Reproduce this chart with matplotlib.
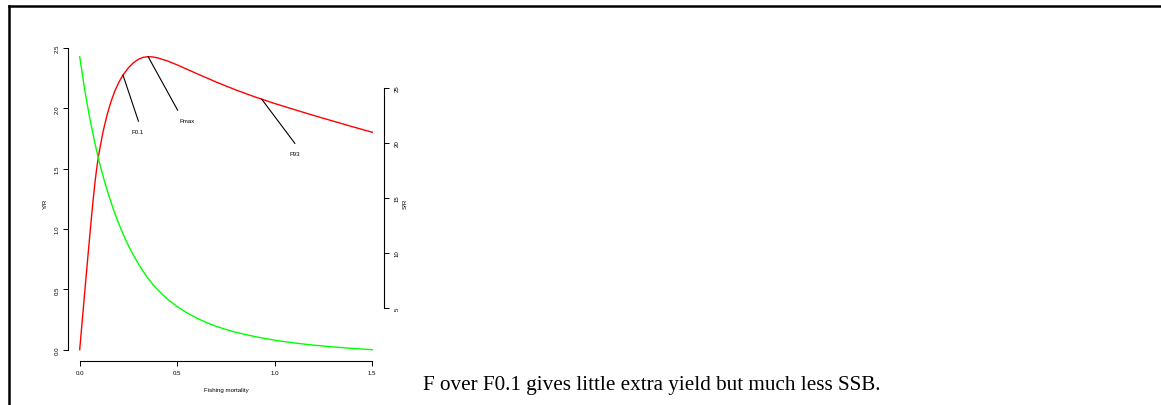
import numpy as np
import matplotlib
matplotlib.use("Agg")
import matplotlib.pyplot as plt
from matplotlib.lines import Line2D

# fishing mortality grid for the yield-per-recruit curve
f_yield = [0.0, 0.02, 0.04, 0.06, 0.07, 0.08, 0.09, 0.10, 0.12, 0.14, 0.16, 0.18,
           0.20, 0.22, 0.25, 0.275, 0.30, 0.325, 0.35, 0.375, 0.40, 0.45, 0.50,
           0.55, 0.60, 0.70, 0.80, 0.90, 1.00, 1.10, 1.20, 1.30, 1.40, 1.50]
yield_per_recruit = [0.0, 0.371, 0.738, 1.093, 1.26, 1.41, 1.536, 1.639, 1.808, 1.944, 2.054, 2.143,
                     2.214, 2.271, 2.337, 2.377, 2.406, 2.423, 2.428, 2.426, 2.418, 2.393, 2.36,
                     2.324, 2.288, 2.218, 2.153, 2.094, 2.04, 1.99, 1.941, 1.894, 1.847, 1.802]

# spawning stock per recruit
f_ssb = [0.0, 0.025, 0.05, 0.075, 0.10, 0.125, 0.15, 0.175, 0.20, 0.225, 0.25, 0.275,
         0.30, 0.325, 0.35, 0.375, 0.40, 0.45, 0.50, 0.55, 0.60, 0.65, 0.70, 0.75,
         0.80, 0.90, 1.00, 1.10, 1.20, 1.30, 1.40, 1.50]
ssb_per_recruit = [27.8, 24.87, 22.37, 20.19, 18.26, 16.61, 15.14, 13.83, 12.65, 11.59, 10.64, 9.79,
                   9.02, 8.32, 7.68, 7.12, 6.63, 5.79, 5.11, 4.54, 4.07, 3.66, 3.32, 3.03,
                   2.78, 2.38, 2.06, 1.81, 1.61, 1.45, 1.31, 1.20]

# reference points
ref_names = ["F0.1", "Fmax", "F93"]
ref_f = [0.222, 0.351, 0.933]
ref_line_end = [(0.301, 1.894), (0.502, 1.985), (1.103, 1.71)]
ref_text_pos = [(0.299, 1.805), (0.551, 1.896), (1.103, 1.626)]

x_ticks = [0.0, 0.5, 1.0, 1.5]
yr_ticks = [0.0, 0.5, 1.0, 1.5, 2.0, 2.5]
sr_ticks = [5, 10, 15, 20, 25]

caption = "F over F0.1 gives little extra yield but much less SSB."

SANS = "Liberation Sans"
SERIF = "Liberation Serif"
SMALL = 4.4


def padded(lo, hi):
    # R-style 4% padding of the axis range
    d = (hi - lo) * 0.04
    return lo - d, hi + d


def style_axis(ax, side):
    ax.tick_params(axis="both", length=3.6, width=0.7, labelsize=SMALL, colors="black")
    for name, sp in ax.spines.items():
        sp.set_visible(name in side)
        sp.set_linewidth(0.8)


fig = plt.figure(figsize=(11.61, 4.06), dpi=100)
plt.rcParams["font.family"] = SANS

ax = fig.add_axes([68 / 1161, 43.6 / 406, 316 / 1161, 316.4 / 406])
ax.plot(f_yield, yield_per_recruit, color="#ff0000", lw=1.0)
ax.set_xlim(*padded(0, 1.5))
ax.set_ylim(*padded(min(yield_per_recruit), max(yield_per_recruit)))
style_axis(ax, ["left", "bottom"])
ax.spines["left"].set_bounds(yr_ticks[0], yr_ticks[-1])
ax.spines["bottom"].set_bounds(x_ticks[0], x_ticks[-1])
ax.set_xticks(x_ticks)
ax.set_xticklabels([f"{v:.1f}" for v in x_ticks])
ax.set_yticks(yr_ticks)
ax.set_yticklabels([f"{v:.1f}" for v in yr_ticks], rotation=90, va="center")
ax.tick_params(axis="x", pad=2.5)
ax.tick_params(axis="y", pad=2.5)
ax.set_xlabel("Fishing mortality", fontsize=SMALL, labelpad=9)
ax.set_ylabel("Y/R", fontsize=SMALL, labelpad=5)

# reference point pointers
for name, f, end, pos in zip(ref_names, ref_f, ref_line_end, ref_text_pos):
    y0 = np.interp(f, f_yield, yield_per_recruit)
    ax.plot([f, end[0]], [y0, end[1]], color="black", lw=0.8)
    ax.text(pos[0], pos[1], name, fontsize=SMALL, ha="center", va="center")

ax2 = ax.twinx()
ax2.plot(f_ssb, ssb_per_recruit, color="#00ff00", lw=1.0)
ax2.set_ylim(*padded(min(ssb_per_recruit), max(ssb_per_recruit)))
style_axis(ax2, ["right"])
ax2.spines["right"].set_bounds(sr_ticks[0], sr_ticks[-1])
ax2.set_yticks(sr_ticks)
ax2.set_yticklabels([str(v) for v in sr_ticks], rotation=90, va="center")
ax2.tick_params(axis="y", pad=4)
ax2.set_ylabel("S/R", fontsize=SMALL, labelpad=2.5)

fig.text(423 / 1161, 1 - 390 / 406, caption, family=SERIF, fontsize=15.2,
         ha="left", va="baseline")

# slide frame
fig.add_artist(Line2D([8.5 / 1161, 8.5 / 1161], [0, 1 - 7 / 406], color="black",
                      lw=1.8, transform=fig.transFigure, solid_capstyle="projecting"))
fig.add_artist(Line2D([8.5 / 1161, 1], [1 - 7 / 406, 1 - 7 / 406], color="black",
                      lw=1.8, transform=fig.transFigure, solid_capstyle="projecting"))

fig.savefig("out.png", dpi=100)
